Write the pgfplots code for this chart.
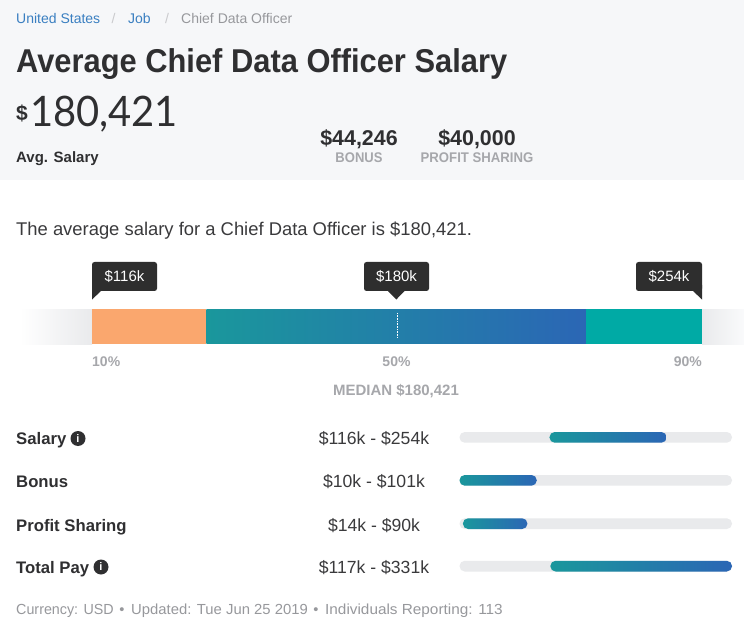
\documentclass[border=0pt]{standalone}
\usepackage{fontspec}
\setmainfont{Liberation Sans}
\newfontfamily\lightf{Lato}
\usepackage{pgfplots}
\pgfplotsset{compat=1.18}
\definecolor{panel}{HTML}{F6F7F9}
\definecolor{track}{HTML}{E9EAEC}
\definecolor{ink}{HTML}{2F2F31}
\definecolor{body}{HTML}{3A3A3C}
\definecolor{mute}{HTML}{A6A7AB}
\definecolor{foot}{HTML}{97989C}
\definecolor{link}{HTML}{3A7FC1}
\definecolor{tip}{HTML}{2E2E2E}
\definecolor{orangebar}{HTML}{FAA76E}
\definecolor{tealbar}{HTML}{00AAA5}
\definecolor{gradL}{HTML}{1A979C}
\definecolor{gradR}{HTML}{2B66B5}
\newcommand{\fs}[1]{\fontsize{#1}{#1}\selectfont}
\pgfplotsset{
  layer/.style={hide axis, scale only axis, clip=false, height=620pt,
    ymin=0, ymax=620, y dir=reverse},
  grad/.style={left color=gradL, right color=gradR, draw=none},
}
\begin{document}
\begin{tikzpicture}[every node/.append style={inner sep=0pt}]
% page layer, units are pixels of the reference
\begin{axis}[layer, name=page, at={(0pt,0pt)}, anchor=south west, width=744pt, xmin=0, xmax=744]
\addplot[fill=white, draw=none] coordinates {(0,0)(744,0)(744,620)(0,620)} --cycle;
\addplot[fill=panel, draw=none] coordinates {(0,0)(744,0)(744,180)(0,180)} --cycle;
\addplot[left color=white, right color=track, draw=none] coordinates {(20,309.5)(92,309.5)(92,344)(20,344)} --cycle;
\addplot[left color=track, right color=panel!60!white, draw=none] coordinates {(702,309.5)(744,309.5)(744,344)(702,344)} --cycle;
% tooltips
\addplot[fill=tip, draw=none, rounded corners=2.5pt] coordinates {(92,262)(157,262)(157,291)(92,291)} --cycle;
\addplot[fill=tip, draw=none] coordinates {(92,285)(101,291)(92,299.5)} --cycle;
\addplot[fill=tip, draw=none, rounded corners=2.5pt] coordinates {(364,262)(429,262)(429,291)(364,291)} --cycle;
\addplot[fill=tip, draw=none] coordinates {(388,291)(404.5,291)(396.3,299.5)} --cycle;
\addplot[fill=tip, draw=none, rounded corners=2.5pt] coordinates {(636,262)(702,262)(702,291)(636,291)} --cycle;
\addplot[fill=tip, draw=none] coordinates {(702,285)(693,291)(702,299.5)} --cycle;
% header
\node[anchor=base west, text=link, font=\fs{14}] at (axis cs:16,24) {United States};
\node[anchor=base, text=mute!60!white, font=\fs{14}] at (axis cs:113.5,24) {/};
\node[anchor=base west, text=link, font=\fs{14}] at (axis cs:128,24) {Job};
\node[anchor=base, text=mute!60!white, font=\fs{14}] at (axis cs:167,24) {/};
\node[anchor=base west, text=foot, font=\fs{14}] at (axis cs:181,24) {Chief Data Officer};
\node[anchor=base west, text=ink, font=\bfseries\fs{33}] at (axis cs:16,73) {\scalebox{0.935}[1]{Average Chief Data Officer Salary}};
\node[anchor=base west, text=ink, font=\bfseries\fs{21}] at (axis cs:16,121) {\$};
\node[anchor=base west, text=ink, font=\lightf\fs{42}] at (axis cs:30,127) {\scalebox{0.95}[1]{180,421}};
\node[anchor=base west, text=ink, font=\bfseries\fs{15}] at (axis cs:16,163) {Avg. Salary};
\node[anchor=base, text=ink, font=\bfseries\fs{21.4}] at (axis cs:359,146) {\$44,246};
\node[anchor=base, text=mute, font=\bfseries\fs{14}] at (axis cs:359,163) {\scalebox{0.93}[1]{BONUS}};
\node[anchor=base, text=ink, font=\bfseries\fs{21.4}] at (axis cs:477,146) {\$40,000};
\node[anchor=base, text=mute, font=\bfseries\fs{14}] at (axis cs:477,163) {\scalebox{0.94}[1]{PROFIT SHARING}};
\node[anchor=base west, text=body, font=\fs{18.4}] at (axis cs:16,236) {The average salary for a Chief Data Officer is \$180,421.};
% main bar texts
\node[anchor=base, text=white, font=\fs{15}] at (axis cs:124.5,281.5) {\$116k};
\node[anchor=base, text=white, font=\fs{15}] at (axis cs:396.5,281.5) {\$180k};
\node[anchor=base, text=white, font=\fs{15}] at (axis cs:669,281.5) {\$254k};
\node[anchor=base west, text=mute, font=\bfseries\fs{14}] at (axis cs:92,366) {10\%};
\node[anchor=base, text=mute, font=\bfseries\fs{14}] at (axis cs:396.5,366) {50\%};
\node[anchor=base east, text=mute, font=\bfseries\fs{14}] at (axis cs:702,366) {90\%};
\node[anchor=base, text=mute, font=\bfseries\fs{15}] at (axis cs:396,395) {MEDIAN \$180,421};
% rows
\node[anchor=base west, text=ink, font=\bfseries\fs{16.7}] at (axis cs:16,444) {Salary};
\node[anchor=base west, text=ink, font=\bfseries\fs{16.7}] at (axis cs:16,487) {Bonus};
\node[anchor=base west, text=ink, font=\bfseries\fs{16.7}] at (axis cs:16,531) {Profit Sharing};
\node[anchor=base west, text=ink, font=\bfseries\fs{16.7}] at (axis cs:16,573) {Total Pay};
\node[circle, fill=ink, text=white, minimum size=15pt, font=\bfseries\fs{11}] at (axis cs:78,438.5) {i};
\node[circle, fill=ink, text=white, minimum size=15pt, font=\bfseries\fs{11}] at (axis cs:101,567) {i};
\node[anchor=base, text=body, font=\fs{17.6}] at (axis cs:374,444) {\$116k - \$254k};
\node[anchor=base, text=body, font=\fs{17.6}] at (axis cs:374,487) {\$10k - \$101k};
\node[anchor=base, text=body, font=\fs{17.6}] at (axis cs:374,531) {\$14k - \$90k};
\node[anchor=base, text=body, font=\fs{17.6}] at (axis cs:374,573) {\$117k - \$331k};
\node[anchor=base west, text=foot, font=\fs{14.6}] at (axis cs:16,614) {\scalebox{0.98}[1]{Currency: USD}};
\node[anchor=base, text=foot, font=\fs{14.6}] at (axis cs:122,614) {•};
\node[anchor=base west, text=foot, font=\fs{14.6}] at (axis cs:131,614) {\scalebox{1.017}[1]{Updated: Tue Jun 25 2019}};
\node[anchor=base, text=foot, font=\fs{14.6}] at (axis cs:316,614) {•};
\node[anchor=base west, text=foot, font=\fs{14.6}] at (axis cs:325,614) {\scalebox{1.05}[1]{Individuals Reporting: 113}};
\end{axis}
% percentile bar, x is the percentile
\begin{axis}[layer, at={(92pt,0pt)}, anchor=south west, width=610pt, xmin=10, xmax=90]
\addplot[fill=orangebar, draw=none] coordinates {(10,309)(25,309)(25,344.5)(10,344.5)} --cycle;
\addplot[grad] coordinates {(25,309.7)(74.9,309.7)(74.9,343.8)(25,343.8)} --cycle;
\addplot[fill=tealbar, draw=none] coordinates {(74.8,309)(90,309)(90,344.5)(74.8,344.5)} --cycle;
\addplot[white, densely dotted, line width=0.6pt] coordinates {(50,313)(50,338)};
\end{axis}
% range bars, x is in thousands of dollars
\begin{axis}[layer, at={(459.5pt,0pt)}, anchor=south west, width=272.5pt, xmin=10, xmax=331,
  every axis plot/.append style={rounded corners=5.2pt}]
\addplot[fill=track, draw=none] coordinates {(10,432)(331,432)(331,442.7)(10,442.7)} --cycle;
\addplot[fill=track, draw=none] coordinates {(10,475)(331,475)(331,485.7)(10,485.7)} --cycle;
\addplot[fill=track, draw=none] coordinates {(10,518.3)(331,518.3)(331,529)(10,529)} --cycle;
\addplot[fill=track, draw=none] coordinates {(10,560.8)(331,560.8)(331,571.5)(10,571.5)} --cycle;
\addplot[grad] coordinates {(116,432)(254,432)(254,442.7)(116,442.7)} --cycle;
\addplot[grad] coordinates {(10,475)(101,475)(101,485.7)(10,485.7)} --cycle;
\addplot[grad] coordinates {(14,518.3)(90,518.3)(90,529)(14,529)} --cycle;
\addplot[grad] coordinates {(117,560.8)(331,560.8)(331,571.5)(117,571.5)} --cycle;
\end{axis}
\end{tikzpicture}
\end{document}
